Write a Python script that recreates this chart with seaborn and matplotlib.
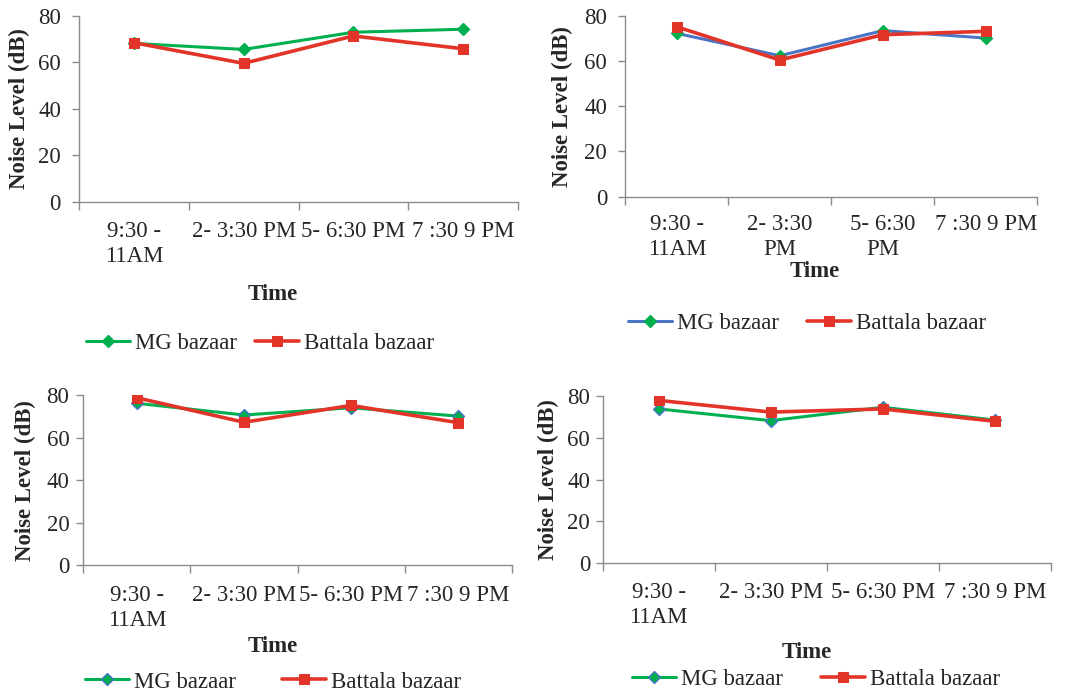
import numpy as np
import pandas as pd
import matplotlib
matplotlib.use("Agg")
import matplotlib.pyplot as plt
import seaborn as sns

# ---------------- data ----------------
times_a = ["9:30 -\n11AM", "2- 3:30 PM", "5- 6:30 PM", "7 :30 9 PM"]
times_b = ["9:30 -\n11AM", "2- 3:30\nPM", "5- 6:30\nPM", "7 :30 9 PM"]
series_names = ["MG bazaar", "Battala bazaar"]
y_ticks = [0, 20, 40, 60, 80]

p1_mg = [68.2, 65.6, 73.0, 74.3]
p1_battala = [68.5, 59.6, 71.4, 65.9]
p2_mg = [72.2, 62.3, 73.4, 70.1]
p2_battala = [75.1, 60.4, 71.6, 73.1]
p3_mg = [76.1, 70.6, 74.0, 70.1]
p3_battala = [78.7, 67.2, 75.1, 67.0]
p4_mg = [73.8, 68.2, 74.6, 68.5]
p4_battala = [77.9, 72.3, 73.8, 67.9]

# ---------------- style ----------------
sns.set_theme(style="white")
plt.rcParams["font.family"] = ["Liberation Serif", "DejaVu Serif"]

GREEN = "#00B050"
RED = "#E3342A"
BLUE = "#4A74C4"
GRAY = "#8C8C8C"
W, H = 1066, 693
fig = plt.figure(figsize=(W / 100, H / 100), dpi=100)

def box(l, r, t, b):
    return [l / W, 1 - b / H, (r - l) / W, (b - t) / H]

panels = [
    dict(rect=(79, 518, 16, 201.7), cats=times_a, mg=p1_mg, bt=p1_battala,
         mg_line=GREEN, mg_edge=GREEN, ypad=8, xpad=14, ylab_x=19, time=(273, 295),
         leg=(260, 343), colsp=0.8),
    dict(rect=(625.3, 1037.3, 15.7, 196.7), cats=times_b, mg=p2_mg, bt=p2_battala,
         mg_line=BLUE, mg_edge=GREEN, ypad=8, xpad=12.5, ylab_x=562, time=(815, 272),
         leg=(807, 323), colsp=1.2),
    dict(rect=(83.3, 511.7, 395, 565.3), cats=times_a, mg=p3_mg, bt=p3_battala,
         mg_line=GREEN, mg_edge=BLUE, ypad=5, xpad=14.5, ylab_x=25, time=(273, 647),
         leg=(273, 682), colsp=2.0),
    dict(rect=(602.7, 1050.7, 396, 563), cats=times_a, mg=p4_mg, bt=p4_battala,
         mg_line=GREEN, mg_edge=BLUE, ypad=4, xpad=13.5, ylab_x=548, time=(807, 653),
         leg=(816, 679), colsp=1.65),
]

FS = 16.5
for p in panels:
    l, r, t, b = p["rect"]
    ax = fig.add_axes(box(l, r, t, b))
    x = np.arange(len(p["cats"]))
    df = pd.DataFrame({"pos": x, "mg": p["mg"], "bt": p["bt"]})
    sns.lineplot(data=df, x="pos", y="mg", ax=ax, color=p["mg_line"], linewidth=2.2,
                 marker="D", markersize=6.3, markerfacecolor=GREEN,
                 markeredgecolor=p["mg_edge"], markeredgewidth=1.0,
                 label=series_names[0], sort=False)
    sns.lineplot(data=df, x="pos", y="bt", ax=ax, color=RED, linewidth=2.6,
                 marker="s", markersize=7, markerfacecolor=RED,
                 markeredgecolor=RED, label=series_names[1], sort=False)
    ax.set_xlim(-0.5, len(x) - 0.5)
    ax.set_ylim(0, 80)
    ax.set_yticks(y_ticks)
    ax.set_yticklabels([str(v) for v in y_ticks], fontsize=FS)
    ax.set_xticks(np.arange(len(x) + 1) - 0.5)
    ax.set_xticklabels([])
    ax.set_xticks(x, minor=True)
    ax.set_xticklabels(p["cats"], minor=True, fontsize=FS, linespacing=1.25,
                       multialignment="center")
    ax.tick_params(axis="x", which="major", length=6, width=1, color=GRAY,
                   direction="out", bottom=True)
    ax.tick_params(axis="x", which="minor", length=0, pad=p["xpad"], bottom=True)
    ax.tick_params(axis="y", which="major", length=5, width=1, color=GRAY,
                   direction="out", left=True, pad=p["ypad"])
    for s in ["top", "right"]:
        ax.spines[s].set_visible(False)
    for s in ["left", "bottom"]:
        ax.spines[s].set_color(GRAY)
        ax.spines[s].set_linewidth(1.0)
    ax.grid(False)
    ax.set_ylabel("Noise Level (dB)", fontsize=FS, fontweight="bold")
    ax.yaxis.set_label_coords((p["ylab_x"] - l) / (r - l), 0.5)
    ax.yaxis.label.set_va("center")
    ax.set_xlabel("Time", fontsize=FS, fontweight="bold")
    tx, ty = p["time"]
    ax.xaxis.set_label_coords((tx - l) / (r - l), (b - ty) / (b - t))
    ax.xaxis.label.set_va("center")
    ax.legend_.remove()
    handles, labels = ax.get_legend_handles_labels()
    lx, ly = p["leg"]
    fig.legend(handles, labels, loc="center", bbox_to_anchor=(lx / W, 1 - ly / H),
               ncol=2, frameon=False, fontsize=FS, handlelength=1.92,
               handletextpad=0.22, columnspacing=p["colsp"], borderpad=0,
               borderaxespad=0)

fig.savefig("out.png", dpi=100)
